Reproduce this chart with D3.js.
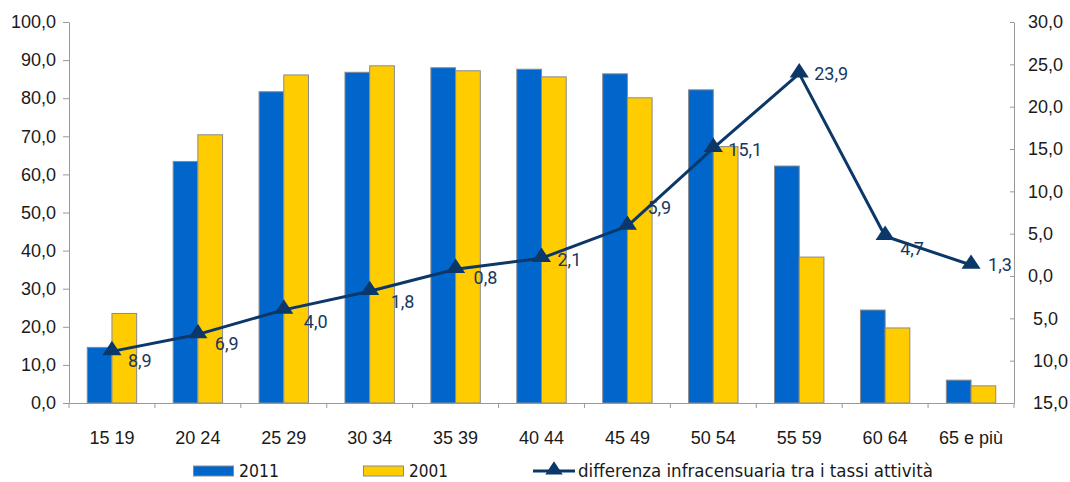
<!DOCTYPE html>
<html>
<head>
<meta charset="utf-8">
<script src="https://cdn.jsdelivr.net/npm/d3@7"></script>
<style>
  html, body { margin: 0; padding: 0; background: #fff; }
  svg { display: block; font-family: Roboto, "Liberation Sans", Arial, sans-serif; }
</style>
</head>
<body>
<svg id="chart" width="1070" height="482"></svg>
<script>
const categories = ["15 19", "20 24", "25 29", "30 34", "35 39", "40 44", "45 49", "50 54", "55 59", "60 64", "65 e più"];
const values2011 = [14.6, 63.4, 81.7, 86.8, 88.0, 87.6, 86.4, 82.2, 62.2, 24.4, 6.0];
const values2001 = [23.5, 70.4, 86.1, 88.5, 87.2, 85.6, 80.1, 67.3, 38.3, 19.7, 4.5];
const differenza = [-8.9, -6.9, -4.0, -1.8, 0.8, 2.1, 5.9, 15.1, 23.9, 4.7, 1.3];
const leftTicks = [0, 10, 20, 30, 40, 50, 60, 70, 80, 90, 100];
const rightTicks = [-15, -10, -5, 0, 5, 10, 15, 20, 25, 30];
const seriesNames = ["2011", "2001", "differenza infracensuaria tra i tassi attività"];

// label nudges (styling, not data)
const labelDy = [9, 9, 12, 10, 8, 1, -18, 2, 0, 12, 0];
const labelDx = [16, 17, 20, 21, 18, 16, 20, 15, 15, 15, 17];

const svg = d3.select("#chart");
const L = 69, R = 1014, T = 22, B = 403;
const fmt = v => d3.format(".1f")(Math.abs(v)).replace(".", ",");

const x0 = d3.scaleBand().domain(categories).range([L, R]).padding(0);
const x1 = d3.scaleBand().domain(["2011", "2001"]).range([0, x0.bandwidth()]).paddingInner(0).paddingOuter(0.739);
const yL = d3.scaleLinear().domain([0, 100]).range([B, T]);
const yR = d3.scaleLinear().domain([-15, 30]).range([B, T]);

const colBlue = "#0066CC", colYellow = "#FFCC00", colLine = "#0B3869", colLabel = "#17375E", axisCol = "#999";

// bars
const groups = svg.append("g").selectAll("g").data(categories).join("g")
  .attr("transform", d => `translate(${x0(d)},0)`);
groups.append("rect")
  .attr("x", x1("2011")).attr("width", x1.bandwidth())
  .attr("y", (d, i) => yL(values2011[i])).attr("height", (d, i) => B - yL(values2011[i]))
  .attr("fill", colBlue).attr("stroke", "#8a8a8a").attr("stroke-width", 1);
groups.append("rect")
  .attr("x", x1("2001")).attr("width", x1.bandwidth())
  .attr("y", (d, i) => yL(values2001[i])).attr("height", (d, i) => B - yL(values2001[i]))
  .attr("fill", colYellow).attr("stroke", "#8a8a8a").attr("stroke-width", 1);

// axes
const gL = svg.append("g").attr("transform", `translate(${L},0)`)
  .call(d3.axisLeft(yL).tickValues(leftTicks).tickSize(6).tickSizeOuter(0).tickPadding(7).tickFormat(fmt));
const gR = svg.append("g").attr("transform", `translate(${R},0)`)
  .call(d3.axisLeft(yR).tickValues(rightTicks).tickSize(4).tickSizeOuter(0).tickFormat(fmt));
gR.selectAll(".tick text").attr("text-anchor", "start").attr("x", d => d < 0 ? 19 : 14);
const gX = svg.append("g").attr("transform", `translate(0,${B})`)
  .call(d3.axisBottom(x0).tickSize(0).tickSizeOuter(0).tickPadding(28));
// boundary ticks
const bounds = categories.map(c => x0(c)).concat([R]);
svg.append("g").selectAll("line").data(bounds).join("line")
  .attr("x1", d => d).attr("x2", d => d).attr("y1", B).attr("y2", B + 5)
  .attr("stroke", axisCol);

[gL, gR, gX].forEach(g => {
  g.selectAll(".domain, .tick line").attr("stroke", axisCol).attr("stroke-width", 1);
  g.selectAll(".tick text").attr("fill", "#1a1a1a").style("font-size", "18px");
});

// line
const pts = categories.map((c, i) => [x0(c) + x0.bandwidth() / 2, yR(differenza[i])]);
svg.append("path").attr("d", d3.line()(pts))
  .attr("fill", "none").attr("stroke", colLine).attr("stroke-width", 3).attr("stroke-linejoin", "round");
const tri = d3.symbol().type(d3.symbolTriangle).size(120);
svg.append("g").selectAll("path").data(pts).join("path")
  .attr("d", tri).attr("transform", d => `translate(${d[0]},${d[1] - 1}) scale(1.15,1)`)
  .attr("fill", colLine);
svg.append("g").selectAll("text").data(pts).join("text")
  .attr("x", (d, i) => d[0] + labelDx[i]).attr("y", (d, i) => d[1] + labelDy[i])
  .attr("dy", "0.35em").attr("fill", colLabel).style("font-size", "18px")
  .text((d, i) => fmt(differenza[i]));

// legend
const lg = svg.append("g").style("font-family", "'Liberation Sans Narrow', 'Arial Narrow', 'DejaVu Sans Condensed', sans-serif").style("font-size", "18px");
const ly = 471;
lg.append("rect").attr("x", 193.5).attr("y", ly - 5).attr("width", 40).attr("height", 10).attr("fill", colBlue).attr("stroke", "#8a8a8a");
lg.append("text").attr("x", 239).attr("y", ly).attr("dy", "0.36em").attr("fill", "#1a1a1a")
  .attr("textLength", 40).attr("lengthAdjust", "spacingAndGlyphs").text(seriesNames[0]);
lg.append("rect").attr("x", 363.5).attr("y", ly - 5).attr("width", 40).attr("height", 10).attr("fill", colYellow).attr("stroke", "#8a8a8a");
lg.append("text").attr("x", 409).attr("y", ly).attr("dy", "0.36em").attr("fill", "#1a1a1a")
  .attr("textLength", 39).attr("lengthAdjust", "spacingAndGlyphs").text(seriesNames[1]);
lg.append("line").attr("x1", 533).attr("x2", 575).attr("y1", ly).attr("y2", ly).attr("stroke", colLine).attr("stroke-width", 3);
lg.append("path").attr("d", d3.symbol().type(d3.symbolTriangle).size(100)).attr("transform", `translate(554,${ly - 1}) scale(1.15,1)`).attr("fill", colLine);
lg.append("text").attr("x", 578).attr("y", ly).attr("dy", "0.36em").attr("fill", "#1a1a1a")
  .attr("textLength", 355).attr("lengthAdjust", "spacingAndGlyphs").text(seriesNames[2]);
</script>
</body>
</html>
